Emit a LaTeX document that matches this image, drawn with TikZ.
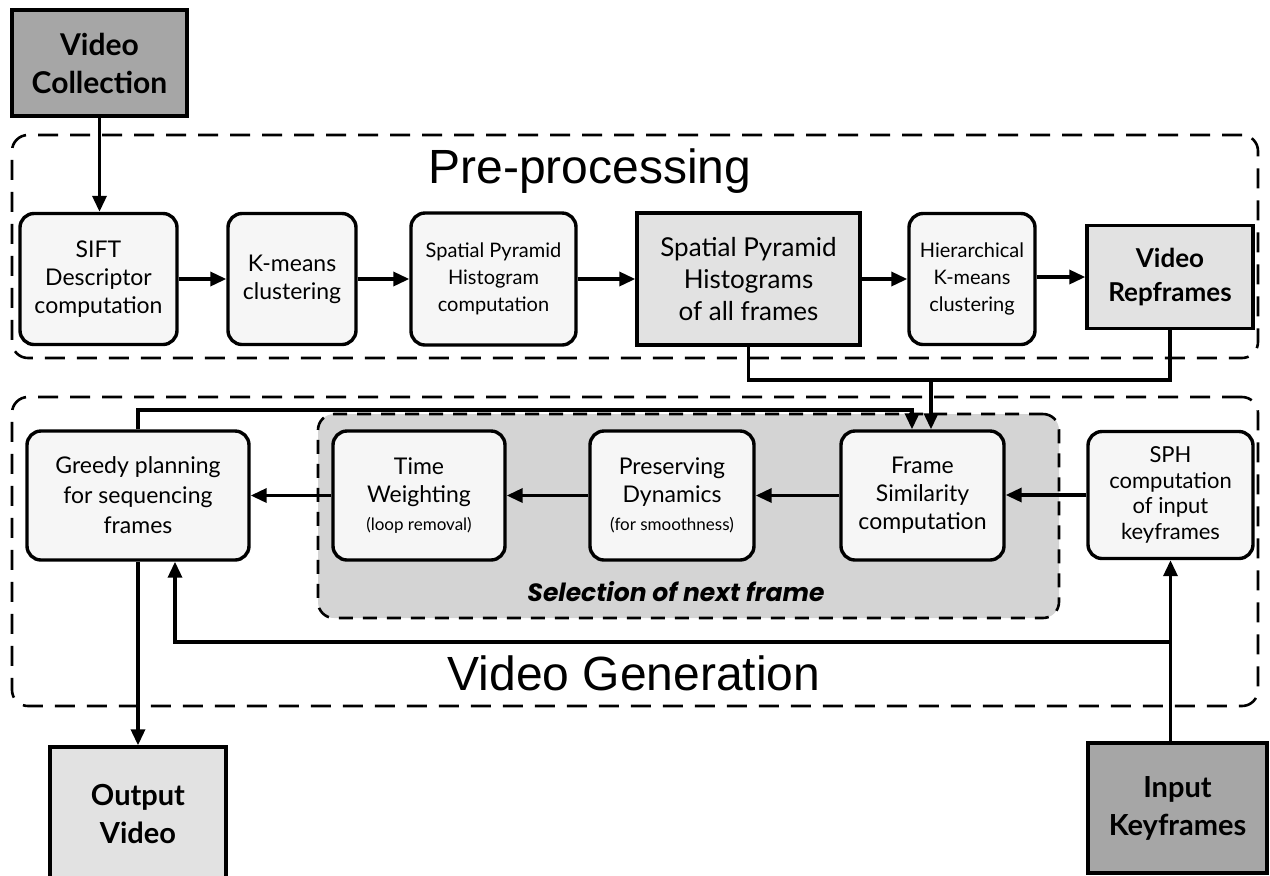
\documentclass[tikz,border=0pt]{standalone}
\usepackage{fontspec}
\setmainfont{Lato}
\newfontfamily\titlefont{Liberation Sans}
\newfontfamily\selfont{Poppins}
\usetikzlibrary{arrows.meta,calc}
\definecolor{boxfill}{HTML}{F6F6F6}
\definecolor{lightfill}{HTML}{E2E2E2}
\definecolor{darkfill}{HTML}{A6A6A6}
\definecolor{selfill}{HTML}{D4D4D4}
\tikzset{
  rbox/.style={draw, line width=1.7pt, rounded corners=7pt, fill=boxfill, align=center, inner sep=2pt},
  sbox/.style={draw, line width=1.7pt, align=center, inner sep=2pt},
  arr/.style={line width=1.7pt, -{Triangle[length=8pt,width=7pt]}},
  conn/.style={line width=1.7pt},
  grp/.style={draw, line width=1.3pt, dash pattern=on 10pt off 6pt, rounded corners=8pt, inner sep=0pt},
  selgrp/.style={draw, fill=selfill, line width=1.3pt, dash pattern=on 7pt off 5pt, rounded corners=8pt, inner sep=0pt},
  fmid/.style={font=\fontsize{11.5}{14}\selectfont},
  fsmall/.style={font=\fontsize{10}{13.5}\selectfont},
}
\begin{document}
\begin{tikzpicture}[x=0.5pt,y=-0.5pt]
\useasboundingbox (0,0) rectangle (1270,875);
\clip (0,0) rectangle (1270,875);
% groups
\node[grp, minimum width=623pt, minimum height=111.5pt] (pre) at (635,246.5) {};
\node[grp, minimum width=623pt, minimum height=154.5pt] (gen) at (635,551.5) {};
\node[selgrp, minimum width=370.5pt, minimum height=102pt] (sel) at (688.5,516) {};
% titles
\node[anchor=base, inner sep=0pt, font=\titlefont\fontsize{24}{28}\selectfont] (pretitle) at (590,183) {Pre-processing};
\node[anchor=base, inner sep=0pt, font=\titlefont\fontsize{24}{28}\selectfont] (gentitle) at (634,690) {Video Generation};
\node[inner sep=0pt, font=\selfont\bfseries\itshape\fontsize{12.5}{15}\selectfont] (seltitle) at (676,592) {Selection of next frame};
% top source
\node[sbox, fill=darkfill, minimum width=87.5pt, minimum height=53pt, font=\bfseries\fontsize{15}{19}\selectfont] (vc) at (99.5,63) {Video\\Collection};
% row 1
\node[rbox, fmid, minimum width=78.5pt, minimum height=65.5pt] (sift) at (98.5,279) {SIFT\\Descriptor\\computation};
\node[rbox, fmid, minimum width=64pt, minimum height=65.5pt] (km) at (292,279) {K-means\\clustering};
\node[rbox, fsmall, minimum width=82.5pt, minimum height=66pt] (sphc) at (493.5,279) {Spatial Pyramid\\Histogram\\computation};
\node[sbox, fill=lightfill, minimum width=111.5pt, minimum height=66pt, font=\fontsize{13}{16}\selectfont] (sphall) at (748.5,279) {Spatial Pyramid\\Histograms\\of all frames};
\node[rbox, fsmall, minimum width=63pt, minimum height=65.5pt] (hier) at (972,279) {Hierarchical\\K-means\\clustering};
\node[sbox, fill=lightfill, minimum width=83pt, minimum height=51.5pt, font=\bfseries\fontsize{13}{17}\selectfont] (rep) at (1170,277) {Video\\Repframes};
% row 2
\node[rbox, font=\fontsize{11.5}{15}\selectfont, minimum width=111pt, minimum height=64.5pt] (greedy) at (138,495.5) {Greedy planning\\for sequencing\\frames};
\node[rbox, fmid, minimum width=86pt, minimum height=64.5pt] (time) at (419,495.5) {Time\\Weighting\\{\fontsize{8.5}{11}\selectfont (loop removal)}};
\node[rbox, fmid, minimum width=82pt, minimum height=64.5pt] (pres) at (672,495.5) {Preserving\\Dynamics\\{\fontsize{8.5}{11}\selectfont (for smoothness)}};
\node[rbox, fmid, minimum width=81.5pt, minimum height=64.5pt] (fsim) at (922.5,495.5) {Frame\\Similarity\\computation};
\node[rbox, font=\fontsize{11}{12.8}\selectfont, minimum width=82.5pt, minimum height=63.5pt] (sphin) at (1170.5,495) {SPH\\computation\\of input\\keyframes};
% bottom
\node[sbox, fill=lightfill, minimum width=88pt, minimum height=66.5pt, font=\bfseries\fontsize{14.5}{19}\selectfont] (out) at (138,813.5) {Output\\Video};
\node[sbox, fill=darkfill, minimum width=89.5pt, minimum height=65pt, font=\bfseries\fontsize{14.5}{19}\selectfont] (inp) at (1177.5,808) {Input\\Keyframes};
% connectors
\draw[arr] (vc.south) -- (vc.south |- sift.north);
\draw[arr] (sift.east) -- (sift.east -| km.west);
\draw[arr] (km.east) -- (km.east -| sphc.west);
\draw[arr] (sphc.east) -- (sphc.east -| sphall.west);
\draw[arr] (sphall.east) -- (sphall.east -| hier.west);
\draw[arr] (hier.east |- rep.west) -- (rep.west);
\coordinate (j) at (931,380);
\draw[conn] (sphall.south) |- (j);
\draw[conn] (rep.south) |- (j);
\draw[arr] (j) -- (j |- fsim.north);
\coordinate (fb) at (912,410);
\draw[arr] (greedy.north) |- (fb) -- (fb |- fsim.north);
\draw[arr] (sphin.west) -- (sphin.west -| fsim.east);
\draw[arr] (fsim.west) -- (fsim.west -| pres.east);
\draw[arr] (pres.west) -- (pres.west -| time.east);
\draw[arr] (time.west) -- (time.west -| greedy.east);
\coordinate (b1) at (175,642);
\draw[arr] (inp.north -| sphin.south) -- (sphin.south);
\draw[arr] (sphin.south |- b1) -- (b1) -- (b1 |- greedy.south);
\draw[arr] (greedy.south) -- (greedy.south |- out.north);
\end{tikzpicture}
\end{document}
